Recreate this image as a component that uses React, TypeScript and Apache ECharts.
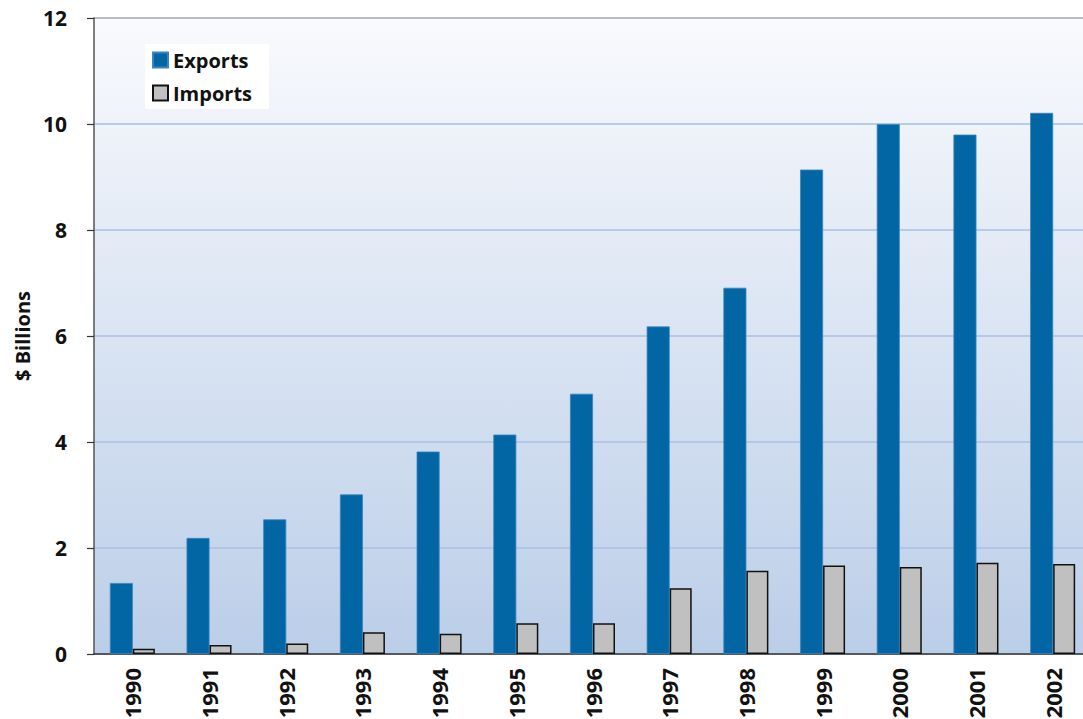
import React, { useEffect, useRef } from "react";
import * as echarts from "echarts";

const years = ["1990", "1991", "1992", "1993", "1994", "1995", "1996", "1997", "1998", "1999", "2000", "2001", "2002"];
const exportsValues = [1.34, 2.19, 2.54, 3.01, 3.82, 4.14, 4.91, 6.18, 6.91, 9.14, 10.0, 9.8, 10.21];
const importsValues = [0.1, 0.17, 0.2, 0.41, 0.38, 0.58, 0.58, 1.24, 1.57, 1.67, 1.64, 1.72, 1.7];
const yTicks = [0, 2, 4, 6, 8, 10, 12];

const FONT = "'Open Sans', 'Noto Sans', sans-serif";

export default function App() {
  const ref = useRef<HTMLDivElement>(null);
  useEffect(() => {
    if (!ref.current) return;
    const chart = echarts.init(ref.current, undefined, { renderer: "svg" });
    const gridColors = yTicks.map((v, i) => (i === yTicks.length - 1 ? "#a3a6ab" : "#a9c0e2"));
    chart.setOption({
      animation: false,
      backgroundColor: "#ffffff",
      grid: {
        left: 94,
        top: 18,
        width: 997,
        height: 636,
        show: true,
        borderWidth: 0,
        outerBoundsMode: "none",
        backgroundColor: new echarts.graphic.LinearGradient(0, 0, 0, 1, [
          { offset: 0, color: "#f9fafd" },
          { offset: 1, color: "#bbcee8" },
        ]),
        containLabel: false,
      },
      legend: {
        orient: "vertical",
        left: 145,
        top: 44,
        backgroundColor: "#ffffff",
        padding: [6, 17, 6, 7],
        itemWidth: 15,
        itemHeight: 15,
        itemGap: 13,
        textStyle: { fontFamily: FONT, fontWeight: "bold", fontSize: 20, color: "#111" },
        data: [
          { name: "Exports", icon: "rect" },
          { name: "Imports", icon: "rect" },
        ],
      },
      xAxis: {
        type: "category",
        data: years,
        axisLine: { show: true, lineStyle: { color: "#333", width: 1.5 } },
        axisTick: { show: false },
        axisLabel: {
          rotate: 90,
          margin: 14,
          fontFamily: FONT,
          fontWeight: "bold",
          fontSize: 22,
          color: "#111",
        },
      },
      yAxis: {
        type: "value",
        min: 0,
        max: 12,
        interval: 2,
        name: "$ Billions",
        nameLocation: "middle",
        nameRotate: 90,
        nameGap: 62,
        nameTextStyle: { fontFamily: FONT, fontWeight: "bold", fontSize: 20, color: "#111" },
        axisLine: { show: true, lineStyle: { color: "#555", width: 1.5 } },
        axisTick: { show: true, length: 7, lineStyle: { color: "#333", width: 1.2 } },
        axisLabel: {
          margin: 27,
          fontFamily: FONT,
          fontWeight: "bold",
          fontSize: 21,
          color: "#111",
        },
        splitLine: { show: true, lineStyle: { color: gridColors, width: 1.5 } },
      },
      series: [
        {
          name: "Exports",
          type: "bar",
          data: exportsValues,
          barWidth: 23,
          barGap: "0%",
          itemStyle: { color: "#0266a5", borderColor: "#3a84bf", borderWidth: 0.8 },
        },
        {
          name: "Imports",
          type: "bar",
          data: importsValues,
          barWidth: 22,
          itemStyle: { color: "#c0c0c0", borderColor: "#111", borderWidth: 1.5 },
        },
      ],
    });
    return () => chart.dispose();
  }, []);
  return (
    <div
      ref={ref}
      style={{ position: "fixed", left: 0, top: 0, width: 1083, height: 719 }}
    />
  );
}
